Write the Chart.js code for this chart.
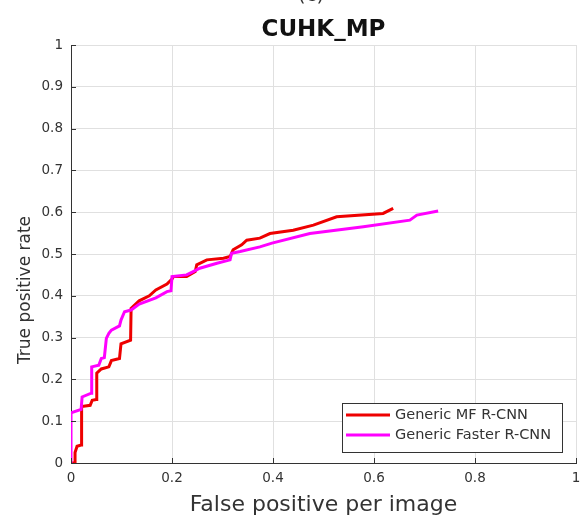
<!DOCTYPE html>
<html>
<head>
<meta charset="utf-8">
<script src="https://cdn.jsdelivr.net/npm/chart.js@4.4.1/dist/chart.umd.min.js"></script>
<style>
    body { margin: 0; background: #fff; }
    #wrap { width: 580px; height: 519px; }
</style>
</head>
<body>
<div id="wrap"><canvas id="rocChart" width="580" height="519"></canvas></div>
<script>
// Generic MF R-CNN (red)
const mfFppi = [0, 0.008, 0.008, 0.012, 0.02, 0.021, 0.038, 0.042, 0.05, 0.051, 0.06, 0.075, 0.08, 0.096, 0.099,
    0.118, 0.119, 0.135, 0.155, 0.168, 0.19, 0.2, 0.203, 0.229, 0.246, 0.249, 0.269, 0.302, 0.315, 0.321,
    0.338, 0.348, 0.374, 0.394, 0.44, 0.48, 0.526, 0.618, 0.638];
const mfTpr = [0, 0, 0.025, 0.04, 0.043, 0.135, 0.138, 0.15, 0.152, 0.215, 0.225, 0.23, 0.245, 0.25, 0.285,
    0.294, 0.37, 0.388, 0.4, 0.414, 0.428, 0.44, 0.446, 0.446, 0.458, 0.474, 0.486, 0.49, 0.494, 0.51,
    0.522, 0.533, 0.538, 0.549, 0.557, 0.569, 0.589, 0.597, 0.609];

// Generic Faster R-CNN (magenta)
const fasterFppi = [0, 0, 0.02, 0.022, 0.04, 0.041, 0.055, 0.06, 0.066, 0.07, 0.075, 0.08, 0.096, 0.099, 0.106,
    0.119, 0.135, 0.168, 0.19, 0.198, 0.2, 0.229, 0.242, 0.255, 0.289, 0.315, 0.318, 0.335, 0.374, 0.398,
    0.473, 0.579, 0.671, 0.685, 0.727];
const fasterTpr = [0, 0.12, 0.128, 0.158, 0.167, 0.23, 0.234, 0.25, 0.252, 0.298, 0.31, 0.318, 0.328, 0.342, 0.362,
    0.366, 0.38, 0.395, 0.41, 0.412, 0.446, 0.45, 0.458, 0.466, 0.478, 0.486, 0.502, 0.506, 0.517, 0.526,
    0.549, 0.565, 0.581, 0.593, 0.603];

const seriesNames = ['Generic MF R-CNN', 'Generic Faster R-CNN'];
const seriesColors = ['#ee0000', '#ff00ff'];
const xTicks = [0, 0.2, 0.4, 0.6, 0.8, 1];
const yTicks = [0, 0.1, 0.2, 0.3, 0.4, 0.5, 0.6, 0.7, 0.8, 0.9, 1];

const FONT = 'DejaVu Sans';
const TEXT = '#333333';

function zip(xs, ys) {
    return xs.map((v, i) => ({ x: v, y: ys[i] }));
}

// axis label on the left, inward ticks, and the boxed legend
const overlay = {
    id: 'overlay',
    afterDraw(chart) {
        const { ctx, chartArea: a } = chart;
        const xs = chart.scales.x;
        const ys = chart.scales.y;
        ctx.save();

        // inward tick marks (MATLAB style)
        ctx.strokeStyle = TEXT;
        ctx.lineWidth = 1;
        ctx.beginPath();
        xTicks.forEach(v => {
            const px = Math.round(xs.getPixelForValue(v)) + 0.5;
            ctx.moveTo(px, a.bottom);
            ctx.lineTo(px, a.bottom - 5);
        });
        yTicks.forEach(v => {
            const py = Math.round(ys.getPixelForValue(v)) + 0.5;
            ctx.moveTo(a.left, py);
            ctx.lineTo(a.left + 5, py);
        });
        ctx.stroke();

        // y axis title
        ctx.fillStyle = TEXT;
        ctx.font = '17px "' + FONT + '"';
        ctx.textAlign = 'center';
        ctx.textBaseline = 'middle';
        ctx.translate(26, 290);
        ctx.rotate(-Math.PI / 2);
        ctx.fillText('True positive rate', 0, 0);
        ctx.setTransform(1, 0, 0, 1, 0, 0);

        // panel label, mostly cut off at the top
        ctx.font = '20px "' + FONT + '"';
        ctx.textBaseline = 'alphabetic';
        ctx.fillText('(c)', 311, 1);

        // legend
        const box = { left: 342, top: 403, right: 562, bottom: 452 };
        ctx.fillStyle = '#ffffff';
        ctx.fillRect(box.left, box.top, box.right - box.left, box.bottom - box.top);
        ctx.strokeStyle = TEXT;
        ctx.strokeRect(box.left + 0.5, box.top + 0.5, box.right - box.left, box.bottom - box.top);
        ctx.font = '14.5px "' + FONT + '"';
        ctx.textAlign = 'left';
        ctx.textBaseline = 'middle';
        seriesNames.forEach((name, i) => {
            const ly = 415 + i * 20;
            ctx.strokeStyle = seriesColors[i];
            ctx.lineWidth = 3;
            ctx.beginPath();
            ctx.moveTo(346, ly);
            ctx.lineTo(390, ly);
            ctx.stroke();
            ctx.fillStyle = TEXT;
            ctx.fillText(name, 395, ly);
        });
        ctx.restore();
    }
};

new Chart(document.getElementById('rocChart'), {
    type: 'scatter',
    data: {
        datasets: [
            {
                label: seriesNames[0],
                data: zip(mfFppi, mfTpr),
                borderColor: seriesColors[0],
                backgroundColor: seriesColors[0],
                order: 1
            },
            {
                label: seriesNames[1],
                data: zip(fasterFppi, fasterTpr),
                borderColor: seriesColors[1],
                backgroundColor: seriesColors[1],
                order: 0
            }
        ]
    },
    options: {
        responsive: false,
        animation: false,
        layout: { padding: { left: 0, right: 4, top: 0, bottom: 0 } },
        elements: {
            point: { radius: 0, hoverRadius: 0 },
            line: { borderWidth: 3, tension: 0, fill: false, borderJoinStyle: 'miter' }
        },
        datasets: { scatter: { showLine: true } },
        scales: {
            x: {
                type: 'linear',
                min: 0,
                max: 1,
                afterFit: scale => {
                    scale.height = 56;
                    scale.paddingLeft = 0;
                    scale.paddingRight = 0;
                },
                afterBuildTicks: scale => { scale.ticks = xTicks.map(v => ({ value: v })); },
                ticks: {
                    color: TEXT,
                    font: { family: FONT, size: 13.5 },
                    padding: 7,
                    maxRotation: 0,
                    callback: v => String(v)
                },
                grid: { color: '#e0e0e0', drawTicks: false },
                border: { color: TEXT, width: 1 },
                title: {
                    display: true,
                    text: 'False positive per image',
                    color: TEXT,
                    font: { family: FONT, size: 22 },
                    padding: { top: 0, bottom: 1 }
                }
            },
            y: {
                type: 'linear',
                min: 0,
                max: 1,
                afterFit: scale => { scale.width = 71; },
                afterBuildTicks: scale => { scale.ticks = yTicks.map(v => ({ value: v })); },
                ticks: {
                    color: TEXT,
                    font: { family: FONT, size: 13.5 },
                    padding: 8,
                    callback: v => String(v)
                },
                grid: { color: '#e0e0e0', drawTicks: false },
                border: { color: TEXT, width: 1 }
            }
        },
        plugins: {
            legend: { display: false },
            tooltip: { enabled: false },
            title: {
                display: true,
                text: 'CUHK_MP',
                fullSize: false,
                color: '#111111',
                font: { family: FONT, size: 23, weight: 'bold' },
                padding: { top: 16, bottom: 1.4 }
            }
        }
    },
    plugins: [overlay]
});
</script>
</body>
</html>
